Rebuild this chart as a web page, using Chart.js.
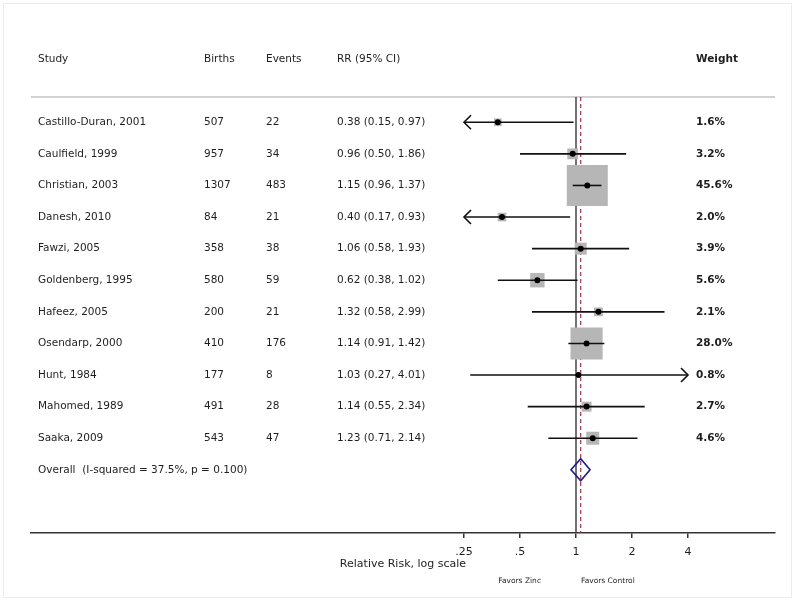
<!DOCTYPE html>
<html>
<head>
<meta charset="utf-8">
<script src="https://cdn.jsdelivr.net/npm/chart.js@4"></script>
<style>
  html, body { margin: 0; padding: 0; background: #fff; }
  #wrap { width: 800px; height: 603px; position: relative; }
</style>
</head>
<body>
<div id="wrap"><canvas id="forest"></canvas></div>
<script>
// study data
const studies = ['Castillo-Duran, 2001', 'Caulfield, 1999', 'Christian, 2003', 'Danesh, 2010',
  'Fawzi, 2005', 'Goldenberg, 1995', 'Hafeez, 2005', 'Osendarp, 2000', 'Hunt, 1984',
  'Mahomed, 1989', 'Saaka, 2009'];
const births = [507, 957, 1307, 84, 358, 580, 200, 410, 177, 491, 543];
const events = [22, 34, 483, 21, 38, 59, 21, 176, 8, 28, 47];
const rr = [0.38, 0.96, 1.15, 0.40, 1.06, 0.62, 1.32, 1.14, 1.03, 1.14, 1.23];
const ciLow = [0.15, 0.50, 0.96, 0.17, 0.58, 0.38, 0.58, 0.91, 0.27, 0.55, 0.71];
const ciHigh = [0.97, 1.86, 1.37, 0.93, 1.93, 1.02, 2.99, 1.42, 4.01, 2.34, 2.14];
const weights = [1.6, 3.2, 45.6, 2.0, 3.9, 5.6, 2.1, 28.0, 0.8, 2.7, 4.6];

// pooled estimate
const overall = [0.94, 1.06, 1.19];
const overallLabel = 'Overall  (I-squared = 37.5%, p = 0.100)';

const tickVals = [0.25, 0.5, 1, 2, 4];
const tickLabels = ['.25', '.5', '1', '2', '4'];

const FONT = '"DejaVu Sans", Verdana, sans-serif';
const clipLo = 0.25, clipHi = 4;

function fmt(v) { return v.toFixed(2); }

const forestPlugin = {
    id: 'forest',
    beforeDraw(chart) {
        const ctx = chart.ctx;
        ctx.save();
        ctx.strokeStyle = '#ececec';
        ctx.lineWidth = 1;
        ctx.strokeRect(3.5, 3.5, 788, 594);
        ctx.restore();
    },
    beforeDatasetsDraw(chart) {
        const ctx = chart.ctx, a = chart.chartArea, x = chart.scales.x;
        ctx.save();
        // header separator
        ctx.strokeStyle = '#d2d2d2';
        ctx.lineWidth = 2;
        ctx.beginPath();
        ctx.moveTo(a.left, a.top);
        ctx.lineTo(a.right, a.top);
        ctx.stroke();
        // no-effect line
        const x1 = x.getPixelForValue(1);
        ctx.strokeStyle = '#444';
        ctx.lineWidth = 1.5;
        ctx.beginPath();
        ctx.moveTo(x1, a.top);
        ctx.lineTo(x1, a.bottom);
        ctx.stroke();
        // pooled estimate line
        const xo = x.getPixelForValue(overall[1]);
        ctx.strokeStyle = '#a0304f';
        ctx.lineWidth = 1.2;
        ctx.setLineDash([4, 3]);
        ctx.beginPath();
        ctx.moveTo(xo, a.top);
        ctx.lineTo(xo, a.bottom);
        ctx.stroke();
        ctx.restore();
    },
    beforeDatasetDraw(chart, args) {
        if (args.index !== 1) return;
        const ctx = chart.ctx, x = chart.scales.x, y = chart.scales.y;
        ctx.save();
        ctx.strokeStyle = '#111';
        ctx.lineWidth = 1.6;
        for (let i = 0; i < studies.length; i++) {
            const yy = y.getPixelForValue(i);
            const x0 = x.getPixelForValue(Math.max(ciLow[i], clipLo));
            const x1 = x.getPixelForValue(Math.min(ciHigh[i], clipHi));
            ctx.beginPath();
            ctx.moveTo(x0, yy);
            ctx.lineTo(x1, yy);
            ctx.stroke();
            if (ciLow[i] < clipLo) {
                ctx.beginPath();
                ctx.moveTo(x0 + 7, yy - 7);
                ctx.lineTo(x0, yy);
                ctx.lineTo(x0 + 7, yy + 7);
                ctx.stroke();
            }
            if (ciHigh[i] > clipHi) {
                ctx.beginPath();
                ctx.moveTo(x1 - 7, yy - 7);
                ctx.lineTo(x1, yy);
                ctx.lineTo(x1 - 7, yy + 7);
                ctx.stroke();
            }
        }
        ctx.restore();
    },
    afterDraw(chart) {
        const ctx = chart.ctx, x = chart.scales.x, y = chart.scales.y, a = chart.chartArea;
        ctx.save();
        // overall diamond
        const yd = y.getPixelForValue(studies.length);
        ctx.strokeStyle = '#1c1c80';
        ctx.lineWidth = 1.6;
        ctx.beginPath();
        ctx.moveTo(x.getPixelForValue(overall[0]), yd);
        ctx.lineTo(x.getPixelForValue(overall[1]), yd - 11);
        ctx.lineTo(x.getPixelForValue(overall[2]), yd);
        ctx.lineTo(x.getPixelForValue(overall[1]), yd + 11);
        ctx.closePath();
        ctx.stroke();

        // table text
        const cols = [38, 204, 266, 337];
        const wx = 696;
        ctx.fillStyle = '#1e1e1e';
        ctx.textBaseline = 'middle';
        ctx.textAlign = 'left';
        ctx.font = '10.5px ' + FONT;
        const yh = y.getPixelForValue(-2);
        ctx.fillText('Study', cols[0], yh);
        ctx.fillText('Births', cols[1], yh);
        ctx.fillText('Events', cols[2], yh);
        ctx.fillText('RR (95% CI)', cols[3], yh);
        ctx.font = 'bold 10.5px ' + FONT;
        ctx.fillText('Weight', wx, yh);
        for (let i = 0; i < studies.length; i++) {
            const yy = y.getPixelForValue(i);
            ctx.font = '10.5px ' + FONT;
            ctx.fillText(studies[i], cols[0], yy);
            ctx.fillText(String(births[i]), cols[1], yy);
            ctx.fillText(String(events[i]), cols[2], yy);
            ctx.fillText(fmt(rr[i]) + ' (' + fmt(ciLow[i]) + ', ' + fmt(ciHigh[i]) + ')', cols[3], yy);
            ctx.font = 'bold 10.5px ' + FONT;
            ctx.fillText(weights[i].toFixed(1) + '%', wx, yy);
        }
        ctx.font = '10.5px ' + FONT;
        ctx.fillText(overallLabel, cols[0], yd);

        // axis title and favours labels
        ctx.textAlign = 'center';
        ctx.font = '11px ' + FONT;
        ctx.fillText('Relative Risk, log scale', (a.left + a.right) / 2, 564);
        const xOne = x.getPixelForValue(1);
        ctx.font = '7.5px ' + FONT;
        ctx.textAlign = 'right';
        ctx.fillText('Favors Zinc', xOne - 35, 581);
        ctx.textAlign = 'left';
        ctx.fillText('Favors Control', xOne + 5, 581);
        ctx.restore();
    }
};

// log axis: 1 sits at x=576, 56px per doubling, plot runs 31..775
const plotLeft = 31, plotRight = 775;
const xMin = Math.pow(2, (plotLeft - 576) / 56);
const xMax = Math.pow(2, (plotRight - 576) / 56);

const ctx = document.getElementById('forest').getContext('2d');
const forestChart = new Chart(ctx, {
    type: 'scatter',
    data: {
        datasets: [{
            label: 'weight',
            data: rr.map((v, i) => ({ x: v, y: i })),
            pointStyle: 'rect',
            pointRadius: weights.map(w => 6.07 * Math.sqrt(w) / Math.SQRT2),
            backgroundColor: '#b6b6b6',
            borderWidth: 0,
            order: 2
        }, {
            label: 'estimate',
            data: rr.map((v, i) => ({ x: v, y: i })),
            pointStyle: 'circle',
            pointRadius: 3,
            backgroundColor: '#000',
            borderWidth: 0,
            order: 1
        }]
    },
    options: {
        responsive: true,
        maintainAspectRatio: false,
        animation: false,
        layout: {
            // the big squares would otherwise push the plot edges in
            autoPadding: false,
            padding: { left: plotLeft, right: 800 - plotRight, top: 97, bottom: 30 }
        },
        plugins: { legend: { display: false }, tooltip: { enabled: false } },
        scales: {
            x: {
                type: 'logarithmic',
                min: xMin,
                max: xMax,
                bounds: 'data',
                afterBuildTicks: function (scale) {
                    scale.ticks = tickVals.map(v => ({ value: v }));
                },
                afterFit: function (scale) {
                    scale.height = 40;
                    scale.paddingLeft = 0;
                    scale.paddingRight = 0;
                },
                ticks: {
                    autoSkip: false,
                    maxRotation: 0,
                    padding: 8,
                    color: '#1e1e1e',
                    font: { family: FONT, size: 11 },
                    callback: function (value, index) { return tickLabels[index]; }
                },
                grid: { drawOnChartArea: false, drawTicks: true, tickLength: 5, color: '#333', lineWidth: 1.5 },
                border: { display: true, color: '#333', width: 1.5 }
            },
            y: {
                type: 'linear',
                reverse: true,
                min: -0.8,
                max: 13,
                display: false
            }
        }
    },
    plugins: [forestPlugin]
});

// keep 1 at x=576 whatever width the layout actually gave the plot
const area = forestChart.chartArea;
forestChart.options.scales.x.min = Math.pow(2, (area.left - 576) / 56);
forestChart.options.scales.x.max = Math.pow(2, (area.right - 576) / 56);
forestChart.update();
</script>
</body>
</html>
